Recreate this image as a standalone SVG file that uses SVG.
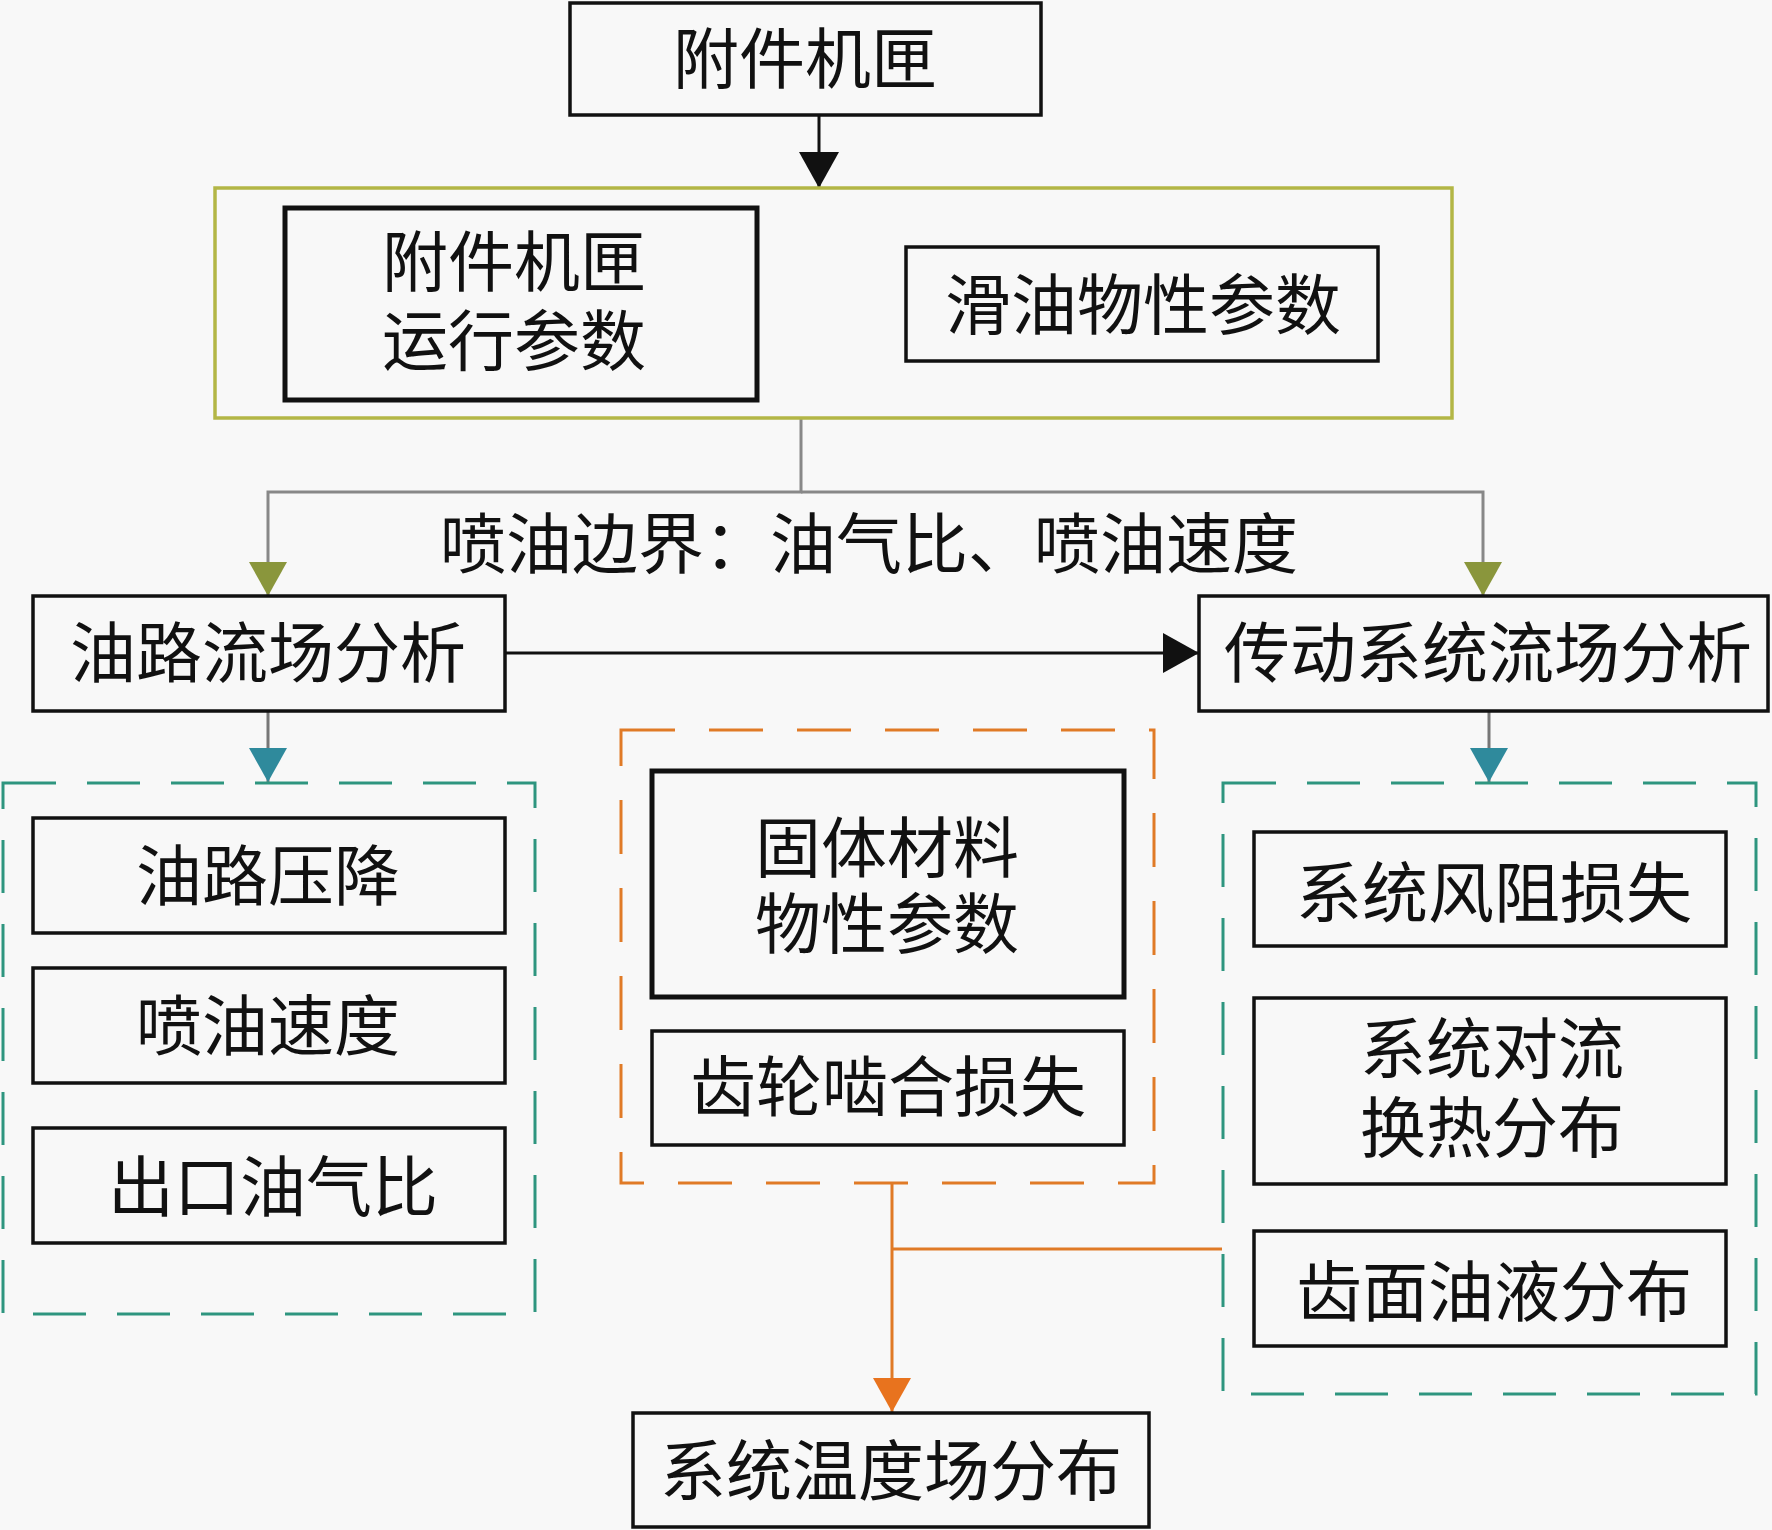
<svg xmlns="http://www.w3.org/2000/svg" width="1772" height="1530" viewBox="0 0 1772 1530">
<style>
.bx{fill:none;stroke:#111;stroke-width:3.5}
.bxt{fill:none;stroke:#111;stroke-width:5}
.t{font-family:"Liberation Sans","Noto Sans CJK SC",sans-serif;font-size:66px;fill:#111;text-anchor:middle}
.grp-teal{fill:none;stroke:#2e957f;stroke-width:3;stroke-dasharray:53 31}
.grp-orange{fill:none;stroke:#e07a26;stroke-width:3;stroke-dasharray:54 34}
.grp-olive{fill:none;stroke:#b3b646;stroke-width:3.5}
.ln{fill:none;stroke-width:3}
</style>
<defs>
<marker id="ab" markerUnits="userSpaceOnUse" markerWidth="36" markerHeight="40" refX="36" refY="20" orient="auto"><path d="M0,0 L36,20 L0,40 z" fill="#111"/></marker>
<marker id="ao" markerUnits="userSpaceOnUse" markerWidth="34" markerHeight="38" refX="34" refY="19" orient="auto"><path d="M0,0 L34,19 L0,38 z" fill="#8a963c"/></marker>
<marker id="at" markerUnits="userSpaceOnUse" markerWidth="34" markerHeight="38" refX="34" refY="19" orient="auto"><path d="M0,0 L34,19 L0,38 z" fill="#2f8a9c"/></marker>
<marker id="ar" markerUnits="userSpaceOnUse" markerWidth="34" markerHeight="38" refX="34" refY="19" orient="auto"><path d="M0,0 L34,19 L0,38 z" fill="#e8731e"/></marker>
</defs>
<rect width="1772" height="1530" fill="#f8f8f8"/>

<g id="connectors">
<path class="ln" d="M819,115 V188" stroke="#111" marker-end="url(#ab)"/>
<path class="ln" d="M801,418 V492 H268 V596" stroke="#888" marker-end="url(#ao)"/>
<path class="ln" d="M801,492 H1483 V596" stroke="#888" marker-end="url(#ao)"/>
<path class="ln" d="M505,653 H1199" stroke="#111" stroke-width="3.5" marker-end="url(#ab)"/>
<path class="ln" d="M268,711 V782" stroke="#777" marker-end="url(#at)"/>
<path class="ln" d="M1489,711 V782" stroke="#777" marker-end="url(#at)"/>
<path class="ln" d="M892,1183 V1412" stroke="#e07a26" marker-end="url(#ar)"/>
<path class="ln" d="M892,1249 H1222" stroke="#e07a26"/>
<text class="t" x="869" y="568">喷油边界：油气比、喷油速度</text>
</g>

<g id="n-top">
<rect class="bx" x="570" y="3" width="471" height="112"/>
<text class="t" x="805" y="83">附件机匣</text>
</g>

<g id="g-input">
<rect class="grp-olive" x="215" y="188" width="1237" height="230"/>
<g id="n-run">
<rect class="bxt" x="285" y="208" width="472" height="192"/>
<text class="t" x="514" y="286">附件机匣</text>
<text class="t" x="514" y="365">运行参数</text>
</g>
<g id="n-oil">
<rect class="bx" x="906" y="247" width="472" height="114"/>
<text class="t" x="1143" y="329">滑油物性参数</text>
</g>
</g>

<g id="n-oilpath">
<rect class="bx" x="33" y="596" width="472" height="115"/>
<text class="t" x="268" y="677">油路流场分析</text>
</g>

<g id="n-trans">
<rect class="bx" x="1199" y="596" width="569" height="115"/>
<text class="t" x="1488" y="677">传动系统流场分析</text>
</g>

<g id="g-left">
<rect class="grp-teal" x="3" y="783" width="532" height="531"/>
<g id="n-pd"><rect class="bx" x="33" y="818" width="472" height="115"/><text class="t" x="268" y="900">油路压降</text></g>
<g id="n-sv"><rect class="bx" x="33" y="968" width="472" height="115"/><text class="t" x="268" y="1050">喷油速度</text></g>
<g id="n-ogr"><rect class="bx" x="33" y="1128" width="472" height="115"/><text class="t" x="273" y="1211">出口油气比</text></g>
</g>

<g id="g-mid">
<rect class="grp-orange" x="621" y="730" width="533" height="453"/>
<g id="n-solid"><rect class="bxt" x="652" y="771" width="472" height="226"/><text class="t" x="887" y="872">固体材料</text><text class="t" x="887" y="948">物性参数</text></g>
<g id="n-mesh"><rect class="bx" x="652" y="1031" width="472" height="114"/><text class="t" x="888" y="1111">齿轮啮合损失</text></g>
</g>

<g id="g-right">
<rect class="grp-teal" x="1223" y="783" width="533" height="611"/>
<g id="n-wind"><rect class="bx" x="1254" y="832" width="472" height="114"/><text class="t" x="1494" y="917">系统风阻损失</text></g>
<g id="n-conv"><rect class="bx" x="1254" y="998" width="472" height="186"/><text class="t" x="1492" y="1073">系统对流</text><text class="t" x="1492" y="1152">换热分布</text></g>
<g id="n-film"><rect class="bx" x="1254" y="1231" width="472" height="115"/><text class="t" x="1494" y="1316">齿面油液分布</text></g>
</g>

<g id="n-temp">
<rect class="bx" x="633" y="1413" width="516" height="114"/>
<text class="t" x="891" y="1495">系统温度场分布</text>
</g>
</svg>
